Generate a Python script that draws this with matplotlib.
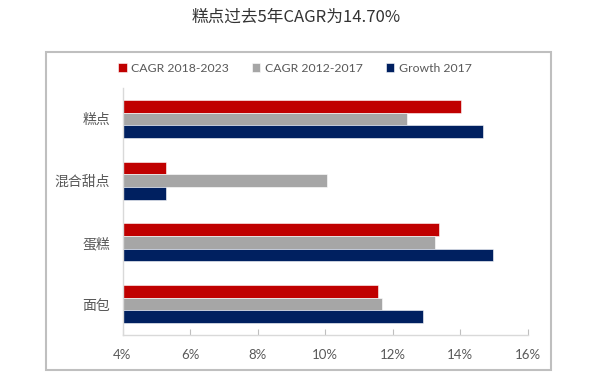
import numpy as np
import matplotlib
matplotlib.use("Agg")
import matplotlib.pyplot as plt
from matplotlib.patches import Rectangle

plt.rcParams['font.family'] = ['Lato', 'Noto Sans CJK SC', 'DejaVu Sans']

TITLE = "糕点过去5年CAGR为14.70%"
categories = ["糕点", "混合甜点", "蛋糕", "面包"]
series_names = ["CAGR 2018-2023", "CAGR 2012-2017", "Growth 2017"]
cagr_2018_2023 = [14.04, 5.28, 13.37, 11.58]
cagr_2012_2017 = [12.44, 10.07, 13.25, 11.68]
growth_2017 = [14.67, 5.28, 14.97, 12.89]
xticks = [4, 6, 8, 10, 12, 14, 16]
xtick_labels = ["4%", "6%", "8%", "10%", "12%", "14%", "16%"]

COLORS = ["#C00000", "#A6A6A6", "#002060"]
GRAY_TXT = "#595959"

fig = plt.figure(figsize=(6, 3.86), dpi=100)
ax = fig.add_axes([122.5/600, 1-335/386, 405/600, 247/386])

y = np.arange(len(categories))
h = 0.205
handles = []
for i, (vals, col, name) in enumerate(zip([cagr_2018_2023, cagr_2012_2017, growth_2017], COLORS, series_names)):
    b = ax.barh(y + (i-1)*h, np.array(vals) - 4, left=4, height=h, color=col,
                edgecolor="white", linewidth=0.4, label=name)
    handles.append(b)

ax.set_xlim(4, 16)
ax.set_ylim(3.5, -0.5)
ax.set_yticks(y)
ax.set_yticklabels(categories, fontsize=10, color=GRAY_TXT, family=['Noto Sans CJK SC'])
ax.tick_params(axis='y', length=0, pad=9)
ax.set_xticks(xticks)
ax.set_xticklabels(xtick_labels, fontsize=9.5, color=GRAY_TXT)
ax.tick_params(axis='x', direction='in', length=4, color="#bfbfbf", pad=10)
for s in ['top', 'right']:
    ax.spines[s].set_visible(False)
for s in ['left', 'bottom']:
    ax.spines[s].set_color("#d9d9d9")
    ax.spines[s].set_linewidth(1)

fig.legend(handles=handles, loc='center left', bbox_to_anchor=(118/600, 1-68/386),
           ncol=3, frameon=False, fontsize=8.8, handlelength=0.7, handleheight=0.7,
           handletextpad=0.4, columnspacing=1.85, borderpad=0, borderaxespad=0,
           labelcolor=GRAY_TXT)

fig.patches.append(Rectangle((46/600, 1-370/386), 505/600, 318/386, transform=fig.transFigure,
                             fill=False, edgecolor="#bfbfbf", linewidth=1.5))

fig.text(0.493, 1-17/386, TITLE, ha='center', va='center', fontsize=12, color="#333333",
         family=['Noto Sans CJK SC'])

fig.savefig("out.png", dpi=100)
